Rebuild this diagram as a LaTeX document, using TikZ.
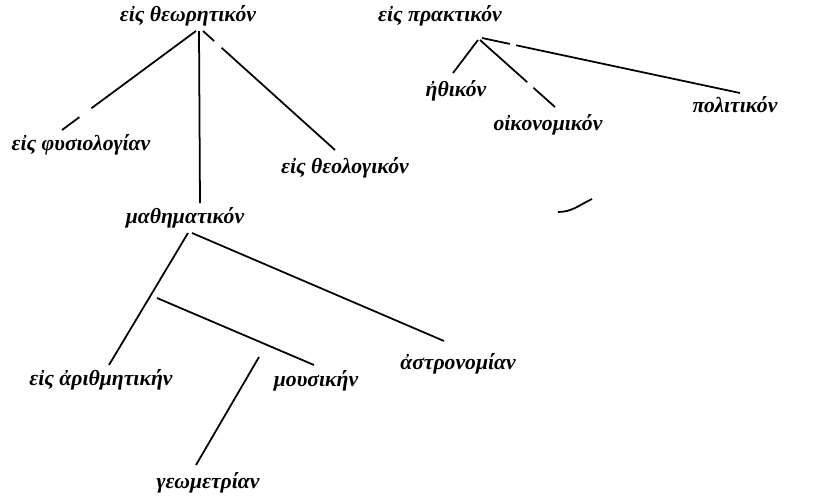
\documentclass[tikz,border=0pt]{standalone}
\usepackage{fontspec}
\setmainfont{Liberation Serif}
\usepackage{tikz}
\tikzstyle{lbl}=[font=\fontsize{18.5}{22}\selectfont\bfseries\itshape,inner sep=0pt]
\tikzstyle{none}=[]
\tikzstyle{br}=[line width=1.5pt]
\tikzstyle{brgap}=[line width=1.5pt,dash pattern=on 3.9cm off 0.45cm on 6cm]
\tikzstyle{brcut}=[line width=1.5pt,dash pattern=on 0.45cm off 0.3cm on 6cm]
\tikzstyle{brmid}=[line width=1.5pt,dash pattern=on 1.9cm off 0.25cm on 6cm]
\tikzstyle{brlong}=[line width=1.5pt,dash pattern=on 0.85cm off 0.2cm on 10cm]

\begin{document}
\begin{tikzpicture}[x=0.03cm, y=-0.03cm]
    \useasboundingbox (0,0) rectangle (832,496);
    \node [style=lbl] (0) at (188, 16) {εἰς θεωρητικόν};
    \node [style=lbl] (1) at (440, 16) {εἰς πρακτικόν};
    \node [style=lbl] (2) at (456, 91) {ἠθικόν};
    \node [style=lbl] (3) at (548, 125) {οἰκονομικόν};
    \node [style=lbl] (4) at (735, 105) {πολιτικόν};
    \node [style=lbl] (5) at (81, 145) {εἰς φυσιολογίαν};
    \node [style=lbl] (6) at (345, 168) {εἰς θεολογικόν};
    \node [style=lbl] (7) at (185, 218) {μαθηματικόν};
    \node [style=lbl] (8) at (101, 380) {εἰς ἀριθμητικήν};
    \node [style=lbl] (9) at (316, 381) {μουσικήν};
    \node [style=lbl] (10) at (458, 364) {ἀστρονομίαν};
    \node [style=lbl] (11) at (208, 483) {γεωμετρίαν};
    \node [style=none] (12) at (196, 31) {};
    \node [style=none] (13) at (62, 130) {};
    \node [style=none] (14) at (199, 31) {};
    \node [style=none] (15) at (200, 203) {};
    \node [style=none] (16) at (203, 31) {};
    \node [style=none] (17) at (335, 150) {};
    \node [style=none] (18) at (478, 40) {};
    \node [style=none] (19) at (453, 73) {};
    \node [style=none] (20) at (480, 40) {};
    \node [style=none] (21) at (555, 107) {};
    \node [style=none] (22) at (482, 38) {};
    \node [style=none] (23) at (740, 93) {};
    \node [style=none] (24) at (188, 233) {};
    \node [style=none] (25) at (109, 365) {};
    \node [style=none] (26) at (192, 233) {};
    \node [style=none] (27) at (444, 341) {};
    \node [style=none] (28) at (157, 298) {};
    \node [style=none] (29) at (314, 365) {};
    \node [style=none] (30) at (259, 357) {};
    \node [style=none] (31) at (196, 465) {};
    \node [style=none] (32) at (558, 212) {};
    \node [style=none] (33) at (592, 199) {};
    \draw [style=brgap] (12.center) to (13.center);
    \draw [style=br] (14.center) to (15.center);
    \draw [style=brcut] (16.center) to (17.center);
    \draw [style=br] (18.center) to (19.center);
    \draw [style=brmid] (20.center) to (21.center);
    \draw [style=brlong] (22.center) to (23.center);
    \draw [style=br] (24.center) to (25.center);
    \draw [style=br] (26.center) to (27.center);
    \draw [style=br] (28.center) to (29.center);
    \draw [style=br] (30.center) to (31.center);
    \draw [style=br] (32.center) to [out=0, in=205] (33.center);
\end{tikzpicture}
\end{document}
